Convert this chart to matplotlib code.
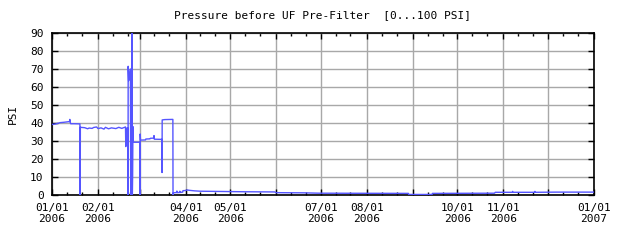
import pandas as pd
import matplotlib
matplotlib.use('Agg')
import matplotlib.pyplot as plt

# readings: days since 2006-01-01 and pressure in PSI
days = [0, 2, 4, 5.4, 8, 10, 11.8, 12.0, 12.2, 12.6, 15, 18.8, 18.9, 19.0, 19.1,
        22, 24, 25, 27, 28, 30, 31, 33, 35, 36, 38, 39, 40, 43, 45, 47, 49.5, 49.7, 49.9,
        51.0, 51.2, 51.3, 51.6, 52.0, 52.4, 52.8, 53.0, 53.2, 53.4, 53.7, 53.9, 54.1,
        54.3, 54.5, 54.7, 59.2, 59.3, 59.4, 59.6, 63, 63.2, 66, 66.2, 68.5, 68.7, 68.9,
        74, 74.1, 74.2, 76, 81.4, 81.5, 81.7, 84, 84.1, 84.3, 86, 86.1, 86.3, 88, 88.2,
        90, 91, 92.5, 96, 100, 110, 120, 130, 150, 151, 170, 180, 240, 240.2, 256,
        256.2, 298, 298.5, 310, 310.2, 310.4, 325, 325.2, 325.4, 340, 365]
psi = [39.2, 39.4, 39.8, 40.2, 40.4, 40.6, 40.8, 42.0, 40.6, 39.6, 39.6, 39.5, 0, 0, 37.6,
       37.4, 36.8, 37.2, 37.0, 37.5, 37.8, 36.9, 37.3, 36.6, 37.6, 36.8, 37.0, 37.3, 36.9, 37.6,
       37.0, 37.8, 26.9, 37.0,
       37.2, 0, 71.5, 63.5, 65.5, 67.5, 70.0, 0, 69.0, 67.5, 0, 90, 0,
       11, 38, 29.3, 29.3, 0, 33.9, 30.5, 30.6, 31.1, 31.2, 31.5, 31.6, 33.0, 31.0,
       30.9, 12.5, 41.7, 41.9, 42.0, 0, 1.2, 1.4, 2.2, 1.3, 1.4, 2.1, 1.4, 1.6, 2.4,
       2.5, 2.8, 2.6, 2.3, 2.1, 2.0, 1.9, 1.8, 1.7, 1.3, 1.2, 1.0, 0.9, 0.3, 0.3,
       0.9, 1.0, 1.5, 1.5, 2.0, 1.5, 1.5, 2.0, 1.5, 1.6, 1.6]

tick_dates = pd.date_range('2006-01-01', '2007-01-01', freq='MS')
tick_labels = ['01/01\n2006', '02/01\n2006', '', '04/01\n2006', '05/01\n2006', '',
               '07/01\n2006', '08/01\n2006', '', '10/01\n2006', '11/01\n2006', '',
               '01/01\n2007']

times = pd.Timestamp('2006-01-01') + pd.to_timedelta(days, unit='D')

plt.rcParams['font.family'] = 'DejaVu Sans Mono'
plt.rcParams['font.size'] = 8

fig = plt.figure(figsize=(6.4, 2.4), dpi=100)
ax = fig.add_axes([52 / 640, 45 / 240, 542 / 640, 162 / 240])

ax.plot(times, psi, color='#5555ff', lw=1.0, zorder=3)

ax.set_xlim(pd.Timestamp('2006-01-01'), pd.Timestamp('2007-01-01'))
ax.set_ylim(0, 90)
ax.set_yticks(range(0, 91, 10))

ax.set_xticks(tick_dates)
ax.set_xticklabels(tick_labels, linespacing=1.05)
minor = [d + pd.Timedelta(days=k) for d in tick_dates[:-1] for k in (10, 20)]
ax.set_xticks(minor, minor=True)

ax.grid(True, which='major', color='#a8a8a8', lw=1.0, zorder=1)
ax.tick_params(which='major', direction='in', length=4, width=1, top=True, right=True, pad=6)
ax.tick_params(which='minor', direction='in', length=2, width=1, top=True, right=False)
ax.tick_params(axis='y', pad=6)
for s in ax.spines.values():
    s.set_linewidth(1.2)

ax.set_ylabel('PSI', labelpad=9)
ax.set_title('Pressure before UF Pre-Filter  [0...100 PSI]', pad=11, fontsize=8)

fig.savefig('out.png', dpi=100)
